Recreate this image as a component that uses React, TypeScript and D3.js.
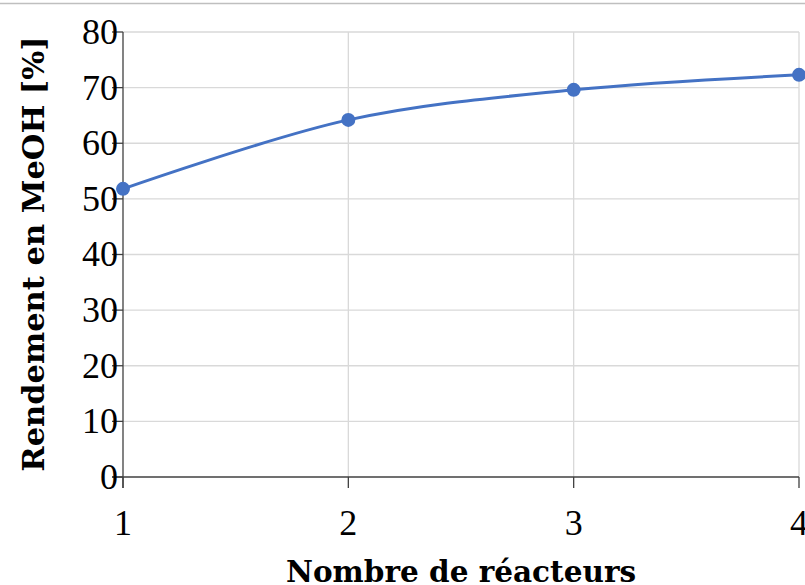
import React from "react";
import * as d3 from "d3";

const reactors = [1, 2, 3, 4];
const yieldMeOH = [51.8, 64.2, 69.6, 72.3];
const yTicks = [0, 10, 20, 30, 40, 50, 60, 70, 80];
const xTicks = [1, 2, 3, 4];
const xTitle = "Nombre de réacteurs";
const yTitle = "Rendement en MeOH [%]";

const W = 805;
const H = 585;
const TICK_FONT = "'Liberation Serif', 'DejaVu Serif', serif";
const TITLE_FONT = "'DejaVu Serif', 'Liberation Serif', serif";

export default function App() {
  const x = d3.scaleLinear().domain([1, 4]).range([123, 799]);
  const y = d3.scaleLinear().domain([0, 80]).range([477, 32]);
  const pts = reactors.map((r, i) => [x(r), y(yieldMeOH[i])] as [number, number]);
  const line = d3.line().curve(d3.curveCatmullRom.alpha(0));
  const axisColor = "#404040";
  const gridColor = "#d9d9d9";
  return (
    <svg
      width={W}
      height={H}
      style={{ position: "absolute", left: 0, top: 0, background: "#fff" }}
    >
      <rect x={0} y={0} width={W} height={H} fill="#fff" />
      <line x1={0} x2={W} y1={3.5} y2={3.5} stroke="#bfbfbf" strokeWidth={1.5} />
      {yTicks.map((t) =>
        t === 0 ? null : (
          <line key={"gy" + t} x1={x(1)} x2={x(4)} y1={y(t)} y2={y(t)} stroke={gridColor} strokeWidth={1.3} />
        )
      )}
      {xTicks.slice(1).map((t) => (
        <line key={"gx" + t} x1={x(t)} x2={x(t)} y1={y(0)} y2={y(80)} stroke={gridColor} strokeWidth={1.3} />
      ))}
      <line x1={x(1)} x2={x(1)} y1={y(80)} y2={y(0) + 11} stroke={axisColor} strokeWidth={1.3} />
      <line x1={x(1) - 11} x2={x(4)} y1={y(0)} y2={y(0)} stroke={axisColor} strokeWidth={1.3} />
      {yTicks.map((t) => (
        <line key={"ty" + t} x1={x(1) - 11} x2={x(1)} y1={y(t)} y2={y(t)} stroke={axisColor} strokeWidth={1.3} />
      ))}
      {xTicks.map((t) => (
        <line key={"tx" + t} x1={x(t)} x2={x(t)} y1={y(0)} y2={y(0) + 11} stroke={axisColor} strokeWidth={1.3} />
      ))}
      {yTicks.map((t) => (
        <text key={"ly" + t} x={x(1) - 5} y={y(t)} dy="0.33em" textAnchor="end" fontFamily={TICK_FONT} fontSize={36} fill="#000">
          {t}
        </text>
      ))}
      {xTicks.map((t) => (
        <text key={"lx" + t} x={x(t)} y={535} textAnchor="middle" fontFamily={TICK_FONT} fontSize={36} fill="#000">
          {t}
        </text>
      ))}
      <text x={(x(1) + x(4)) / 2} y={582} textAnchor="middle" fontFamily={TITLE_FONT} fontWeight="bold" fontSize={29.5} fill="#000">
        {xTitle}
      </text>
      <text
        transform={`translate(44, 254) rotate(-90)`}
        textAnchor="middle"
        fontFamily={TITLE_FONT}
        fontWeight="bold"
        fontSize={30.5}
        fill="#000"
      >
        {yTitle}
      </text>
      <path d={line(pts) || ""} fill="none" stroke="#4472C4" strokeWidth={3} />
      {pts.map((p, i) => (
        <circle key={"m" + i} cx={p[0]} cy={p[1]} r={7} fill="#4472C4" />
      ))}
    </svg>
  );
}
